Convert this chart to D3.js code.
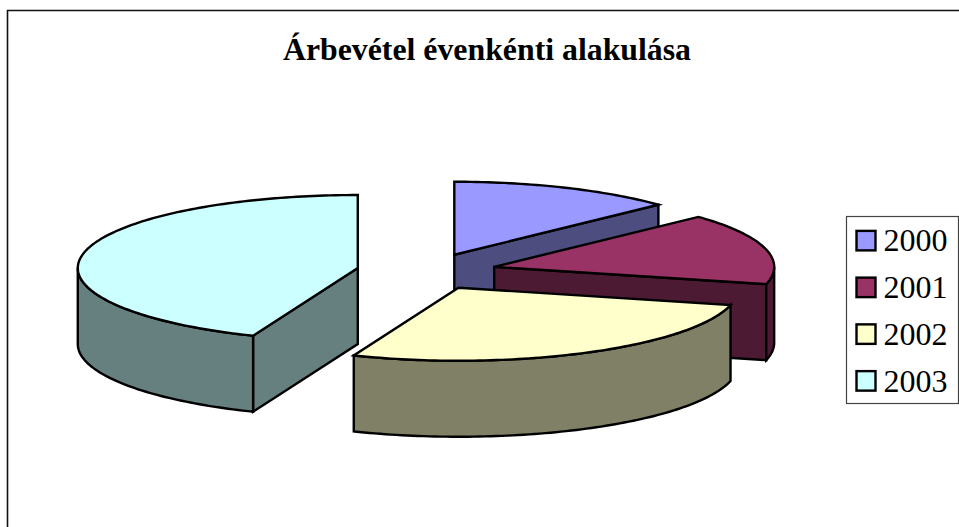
<!DOCTYPE html>
<html>
<head>
<meta charset="utf-8">
<script src="https://cdn.jsdelivr.net/npm/d3@7/dist/d3.min.js"></script>
<style>
html,body{margin:0;padding:0;background:#fff;overflow:hidden}
svg{display:block}
text{font-family:"Liberation Serif","Times New Roman",serif;fill:#000}
</style>
</head>
<body>
<svg id="chart" width="959" height="527"></svg>
<script>
const titleText = "Árbevétel évenkénti alakulása";
const years = ["2000", "2001", "2002", "2003"];
const shares = [13, 15.8, 27.3, 43.9];
const topColors = ["#9999FF", "#993366", "#FFFFCC", "#CCFFFF"];
const sideColors = ["#4D4D80", "#4D1A33", "#808066", "#668080"];

const W = 959, H = 527;
const cx = 426.5, cy = 271.5, rx = 280, ry = 73, depth = 76, explode = 0.25;
const ink = "#000", sw = 2.4;

const svg = d3.select("#chart");
const x = d3.scaleLinear().domain([-1, 1]).range([cx - rx, cx + rx]);
const y = d3.scaleLinear().domain([-1, 1]).range([cy - ry, cy + ry]);
const line = d3.line();

// chart frame: only top and left edges fall inside the picture
svg.append("path")
  .attr("d", `M7.5,${H + 2}V10.5H${W + 2}`)
  .attr("fill", "none").attr("stroke", "#111").attr("stroke-width", 1.6);

const arcs = d3.pie().sort(null).value(d => d)(shares);

function sampled(a0, a1) {
  const n = Math.max(2, Math.ceil(Math.abs(a1 - a0) / 0.02));
  return d3.range(n + 1).map(i => a0 + (a1 - a0) * i / n);
}

function drawSlice(arc, i) {
  const mid = (arc.startAngle + arc.endAngle) / 2;
  const ox = explode * Math.sin(mid), oy = -explode * Math.cos(mid);
  const pt = (a, r, dz = 0) => [x(ox + r * Math.sin(a)), y(oy - r * Math.cos(a)) + dz];
  const g = svg.append("g");
  const side = pts => g.append("path").attr("d", line(pts) + "Z")
    .attr("fill", sideColors[i]).attr("stroke", ink)
    .attr("stroke-width", sw).attr("stroke-linejoin", "miter");

  // radial wall that faces the viewer
  const wallAt = a => side([pt(a, 0), pt(a, 1), pt(a, 1, depth), pt(a, 0, depth)]);
  if (Math.sin(arc.endAngle - 1e-6) > 0) wallAt(arc.endAngle);
  if (Math.sin(arc.startAngle + 1e-6) < 0) wallAt(arc.startAngle);

  // outer rim: only the part on the near half of the ellipse
  const a0 = Math.max(arc.startAngle, Math.PI / 2);
  const a1 = Math.min(arc.endAngle, 1.5 * Math.PI);
  if (a1 > a0) {
    const angles = sampled(a0, a1);
    side(angles.map(a => pt(a, 1)).concat(angles.slice().reverse().map(a => pt(a, 1, depth))));
  }

  // top face
  const topPts = [pt(0, 0)].concat(sampled(arc.startAngle, arc.endAngle).map(a => pt(a, 1)));
  g.append("path").attr("d", line(topPts) + "Z")
    .attr("fill", topColors[i]).attr("stroke", ink)
    .attr("stroke-width", sw).attr("stroke-linejoin", "miter");
}

[3, 0, 1, 2].forEach(i => drawSlice(arcs[i], i));

// title
svg.append("text").attr("x", 487).attr("y", 60)
  .attr("text-anchor", "middle").attr("font-size", 31.8).attr("font-weight", "bold")
  .text(titleText);

// legend
const lx = 846.5, ly = 216.5, lw = 112, lh = 187;
svg.append("rect").attr("x", lx).attr("y", ly).attr("width", lw).attr("height", lh)
  .attr("fill", "#fff").attr("stroke", "#444").attr("stroke-width", 1.2);
const row = d3.scaleBand().domain(years).range([ly + 0.5, ly + lh + 0.5]);
const rows = svg.selectAll("g.legend").data(years).join("g").attr("class", "legend")
  .attr("transform", d => `translate(0,${row(d) + row.bandwidth() / 2})`);
rows.append("rect").attr("x", 856.5).attr("y", -9.5).attr("width", 19).attr("height", 19.5)
  .attr("fill", (d, i) => topColors[i]).attr("stroke", "#000").attr("stroke-width", 2.4);
rows.append("text").attr("x", 883.5).attr("y", 11).attr("font-size", 32).text(d => d);
</script>
</body>
</html>
